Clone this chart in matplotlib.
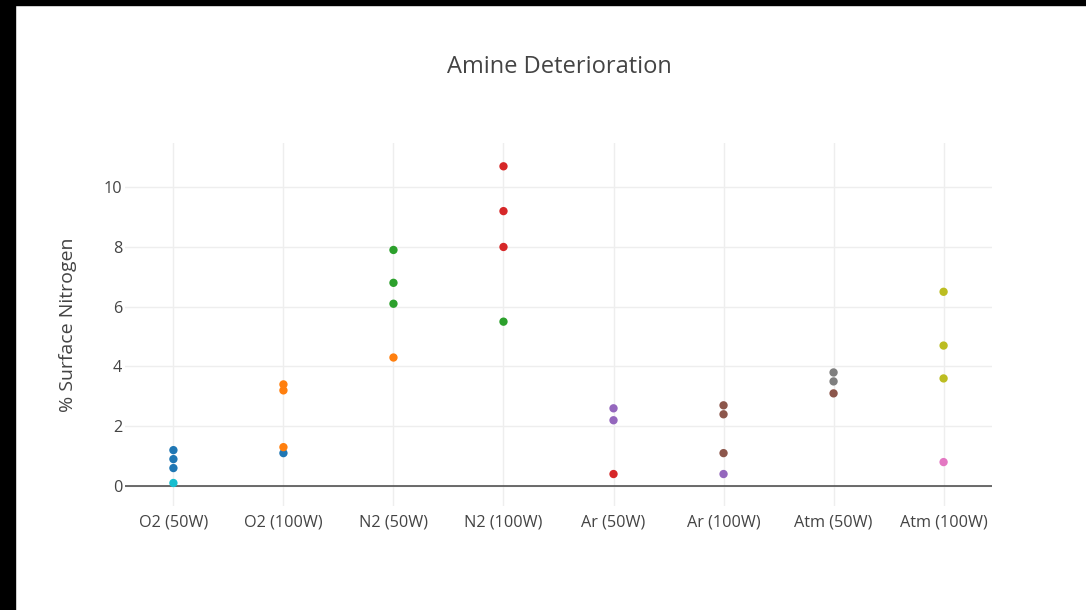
import matplotlib
matplotlib.use("Agg")
import matplotlib.pyplot as plt
from matplotlib.patches import Rectangle

plt.rcParams["font.family"] = ["Open Sans", "DejaVu Sans"]

categories = ["O2 (50W)", "O2 (100W)", "N2 (50W)", "N2 (100W)",
              "Ar (50W)", "Ar (100W)", "Atm (50W)", "Atm (100W)"]

# Each series: the treatment it belongs to and its % surface nitrogen
s0_cat = ["O2 (50W)", "O2 (50W)", "O2 (50W)", "O2 (100W)"]
s0_val = [1.2, 0.9, 0.6, 1.1]
s1_cat = ["O2 (100W)", "O2 (100W)", "O2 (100W)", "N2 (50W)"]
s1_val = [3.4, 3.2, 1.3, 4.3]
s2_cat = ["N2 (50W)", "N2 (50W)", "N2 (50W)", "N2 (100W)"]
s2_val = [7.9, 6.8, 6.1, 5.5]
s3_cat = ["N2 (100W)", "N2 (100W)", "N2 (100W)", "Ar (50W)"]
s3_val = [10.7, 9.2, 8.0, 0.4]
s4_cat = ["Ar (50W)", "Ar (50W)", "Ar (100W)"]
s4_val = [2.6, 2.2, 0.4]
s5_cat = ["Ar (100W)", "Ar (100W)", "Ar (100W)", "Atm (50W)"]
s5_val = [2.7, 2.4, 1.1, 3.1]
s6_cat = ["Atm (100W)"]
s6_val = [0.8]
s7_cat = ["Atm (50W)", "Atm (50W)"]
s7_val = [3.8, 3.5]
s8_cat = ["Atm (100W)", "Atm (100W)", "Atm (100W)"]
s8_val = [6.5, 4.7, 3.6]
s9_cat = ["O2 (50W)"]
s9_val = [0.1]

series = [(s0_cat, s0_val), (s1_cat, s1_val), (s2_cat, s2_val), (s3_cat, s3_val),
          (s4_cat, s4_val), (s5_cat, s5_val), (s6_cat, s6_val), (s7_cat, s7_val),
          (s8_cat, s8_val), (s9_cat, s9_val)]
colors = ["#1f77b4", "#ff7f0e", "#2ca02c", "#d62728", "#9467bd",
          "#8c564b", "#e377c2", "#7f7f7f", "#bcbd22", "#17becf"]

W, H = 1086, 610
fig = plt.figure(figsize=(W / 100, H / 100), dpi=100)
fig.patch.set_facecolor("white")

left, right, top, bottom = 125, 992, 143, 506
ax = fig.add_axes([left / W, 1 - bottom / H, (right - left) / W, (bottom - top) / H])

pos = {c: i for i, c in enumerate(categories)}
for (cats, vals), col in zip(series, colors):
    ax.scatter([pos[c] for c in cats], vals, s=36, color=col,
               edgecolors="none", zorder=3, clip_on=False)

ax.set_xlim(-0.44, 7.44)
ax.set_ylim(-0.67, 11.48)
ax.set_xticks(range(len(categories)))
ax.set_xticklabels(categories)
ax.set_yticks([0, 2, 4, 6, 8, 10])

ax.grid(True, color="#eeeeee", linewidth=1)
ax.set_axisbelow(True)
ax.axhline(0, color="#444444", linewidth=1.1, zorder=2)
for sp in ax.spines.values():
    sp.set_visible(False)
ax.tick_params(axis="both", length=0, labelsize=11.7, colors="#444444")
ax.tick_params(axis="x", pad=6)
ax.tick_params(axis="y", pad=2)

ax.set_ylabel("% Surface Nitrogen", fontsize=14, color="#444444", labelpad=19)
fig.text(559 / W, 1 - 67 / H, "Amine Deterioration", ha="center", va="center",
         fontsize=17, color="#444444")

# Dark frame strips along the top and left edges
fig.patches.append(Rectangle((0, 1 - 5 / H), 1, 5 / H, transform=fig.transFigure,
                             color="black", zorder=10))
fig.patches.append(Rectangle((0, 0), 15 / W, 1, transform=fig.transFigure,
                             color="black", zorder=10))

fig.savefig("out.png", dpi=100)
